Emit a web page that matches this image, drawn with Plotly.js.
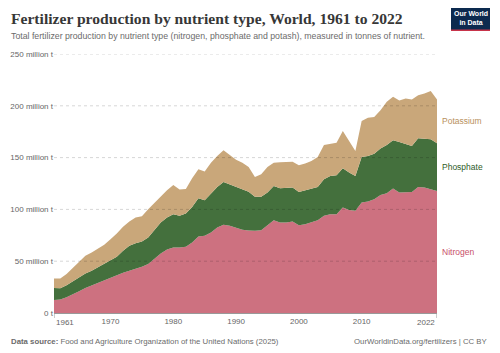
<!DOCTYPE html>
<html>
<head>
<meta charset="utf-8">
<script src="https://cdn.plot.ly/plotly-3.0.1.min.js"></script>
<style>html,body{margin:0;padding:0;background:#fff;}#chart{width:500px;height:353px;}</style>
</head>
<body>
<div id="chart"></div>
<script>
// Data (million tonnes of nutrient)
var years = [];
for (var yr = 1961; yr <= 2022; yr++) years.push(yr);
var nitrogen = [12.5,13.0,15.1,17.7,20.9,24.1,26.7,29.2,31.8,34.4,36.3,38.9,40.8,42.4,44.6,47.2,52.0,57.5,61.3,63.3,63.3,63.9,68.1,73.9,74.5,77.7,82.5,85.1,84.1,82.2,80.3,79.6,79.3,79.8,85.1,89.6,87.3,87.3,88.3,84.8,85.7,87.3,89.6,93.8,95.4,95.4,101.8,99.5,98.6,106.6,107.6,109.8,114.0,115.6,120.1,116.2,116.2,116.9,121.7,121.1,119.4,117.8];
var phosphate = [11.6,11.0,11.6,12.8,13.5,14.1,14.1,14.8,15.4,16.0,18.0,21.1,24.1,25.0,24.4,25.7,28.0,29.8,30.9,32.1,30.5,32.1,34.3,36.9,34.4,37.6,39.2,41.4,40.2,39.8,39.2,37.4,33.0,32.3,31.1,33.1,33.1,33.1,32.8,32.1,32.8,33.1,32.1,35.3,36.9,37.5,37.9,36.0,33.7,44.0,44.0,44.0,44.9,46.6,46.6,48.8,47.2,44.3,46.9,47.2,48.2,46.0];
var potassium = [9.3,9.3,10.9,12.8,15.0,17.0,17.6,17.7,18.6,20.9,22.4,23.2,23.4,24.8,24.4,27.3,26.6,25.7,26.3,28.2,25.3,23.8,27.6,27.9,27.6,29.8,29.9,30.5,28.2,26.0,25.5,24.0,19.0,21.8,24.8,22.4,25.1,25.7,25.0,25.7,25.7,26.3,28.9,33.1,31.1,31.5,35.9,30.5,24.1,34.7,36.9,35.3,36.7,41.7,42.0,40.2,43.7,44.9,41.7,43.6,46.6,42.3];
var yTickVals = [0, 50, 100, 150, 200, 250];
var yTickText = ["0 t", "50 million t", "100 million t", "150 million t", "200 million t", "250 million t"];
var xTickVals = [1961, 1970, 1980, 1990, 2000, 2010, 2022];
var seriesNames = ["Nitrogen", "Phosphate", "Potassium"];

var fillColors = ["#cd7180", "#44703d", "#c9a77a"];
var labelColors = ["#c8506a", "#2e5b28", "#b8905c"];

var W = 500, H = 353, mL = 54, mR = 63, mT = 54, mB = 40;
var pw = W - mL - mR, ph = H - mT - mB;
function px(x) { return (x - mL) / pw; }
function py(y) { return (H - mB - y) / ph; }
var sans = "Liberation Sans, Arial, sans-serif";

var seriesVals = [nitrogen, phosphate, potassium];
var traces = seriesVals.map(function (vals, i) {
  return {
    x: years, y: vals, type: "scatter", mode: "lines",
    stackgroup: "one", name: seriesNames[i],
    line: { width: 0, color: fillColors[i] },
    fillcolor: fillColors[i], hoverinfo: "skip"
  };
});

var last = years.length - 1;
var cum = 0;
var annotations = [];
seriesVals.forEach(function (vals, i) {
  var mid = cum + vals[last] / 2;
  cum += vals[last];
  annotations.push({
    x: years[last], y: mid, xref: "x", yref: "y", xanchor: "left", yanchor: "middle",
    xshift: 3, text: seriesNames[i], showarrow: false,
    font: { family: sans, size: 8.5, color: labelColors[i] }
  });
});

// first and last x tick labels aligned to the plot edges
var firstX = xTickVals[0], lastX = xTickVals[xTickVals.length - 1];
[[firstX, "left"], [lastX, "right"]].forEach(function (d) {
  annotations.push({
    x: d[0], xref: "x", yref: "paper", y: py(322), xanchor: d[1], yanchor: "middle",
    text: String(d[0]), showarrow: false, font: { family: sans, size: 8, color: "#666" }
  });
});

annotations.push({
  xref: "paper", yref: "paper", x: px(9), y: py(18), xanchor: "left", yanchor: "middle",
  text: "<b>Fertilizer production by nutrient type, World, 1961 to 2022</b>", showarrow: false,
  font: { family: "Liberation Serif, Times New Roman, serif", size: 15.6, color: "#373737" }
});
annotations.push({
  xref: "paper", yref: "paper", x: px(9), y: py(36), xanchor: "left", yanchor: "middle",
  text: "Total fertilizer production by nutrient type (nitrogen, phosphate and potash), measured in tonnes of nutrient.", showarrow: false,
  font: { family: sans, size: 8.75, color: "#6b6b6b" }
});
annotations.push({
  xref: "paper", yref: "paper", x: px(9), y: py(341), xanchor: "left", yanchor: "middle",
  text: "<b>Data source:</b> Food and Agriculture Organization of the United Nations (2025)", showarrow: false,
  font: { family: sans, size: 7.8, color: "#6b6b6b" }
});
annotations.push({
  xref: "paper", yref: "paper", x: px(490), y: py(341), xanchor: "right", yanchor: "middle",
  text: "OurWorldinData.org/fertilizers | CC BY", showarrow: false,
  font: { family: sans, size: 7.8, color: "#6b6b6b" }
});
annotations.push({
  xref: "paper", yref: "paper", x: px(470.5), y: py(18.5), xanchor: "center", yanchor: "middle",
  text: "<b>Our World<br>in Data</b>", showarrow: false,
  font: { family: sans, size: 7, color: "#ffffff" }
});

var shapes = [
  { type: "rect", xref: "paper", yref: "paper", x0: px(451), x1: px(490), y0: py(8), y1: py(31),
    fillcolor: "#0c2a4f", line: { width: 0 }, layer: "above" },
  { type: "rect", xref: "paper", yref: "paper", x0: px(451), x1: px(490), y0: py(29.5), y1: py(31),
    fillcolor: "#c8344a", line: { width: 0 }, layer: "above" }
];
yTickVals.forEach(function (v) {
  if (v === 0) return;
  shapes.push({ type: "line", xref: "paper", yref: "y", x0: 0, x1: 1, y0: v, y1: v,
    line: { color: "rgba(0,0,0,0.16)", width: 1, dash: "3px,3px" }, layer: "above" });
});
// end tick marks
[firstX, lastX].forEach(function (v) {
  shapes.push({ type: "line", xref: "x", yref: "paper", x0: v, x1: v, y0: 0, y1: py(318),
    line: { color: "#999", width: 1 }, layer: "above" });
});

var layout = {
  width: W, height: H,
  margin: { l: mL, r: mR, t: mT, b: mB, pad: 0 },
  paper_bgcolor: "#fff", plot_bgcolor: "#fff",
  showlegend: false,
  font: { family: sans, size: 8, color: "#666" },
  xaxis: {
    range: [1961, 2022], tickvals: xTickVals,
    ticktext: xTickVals.map(function (v, i) { return (i === 0 || i === xTickVals.length - 1) ? "" : String(v); }),
    showgrid: false, zeroline: false, showline: true, linecolor: "#999", linewidth: 1,
    ticks: "", tickfont: { size: 8, color: "#666" }
  },
  yaxis: {
    range: [0, 250], tickvals: yTickVals, ticktext: yTickText,
    showgrid: false, zeroline: false, showline: false, ticks: "",
    tickfont: { size: 8, color: "#666" }
  },
  annotations: annotations,
  shapes: shapes
};

Plotly.newPlot("chart", traces, layout, { displayModeBar: false, staticPlot: true });
</script>
</body>
</html>
